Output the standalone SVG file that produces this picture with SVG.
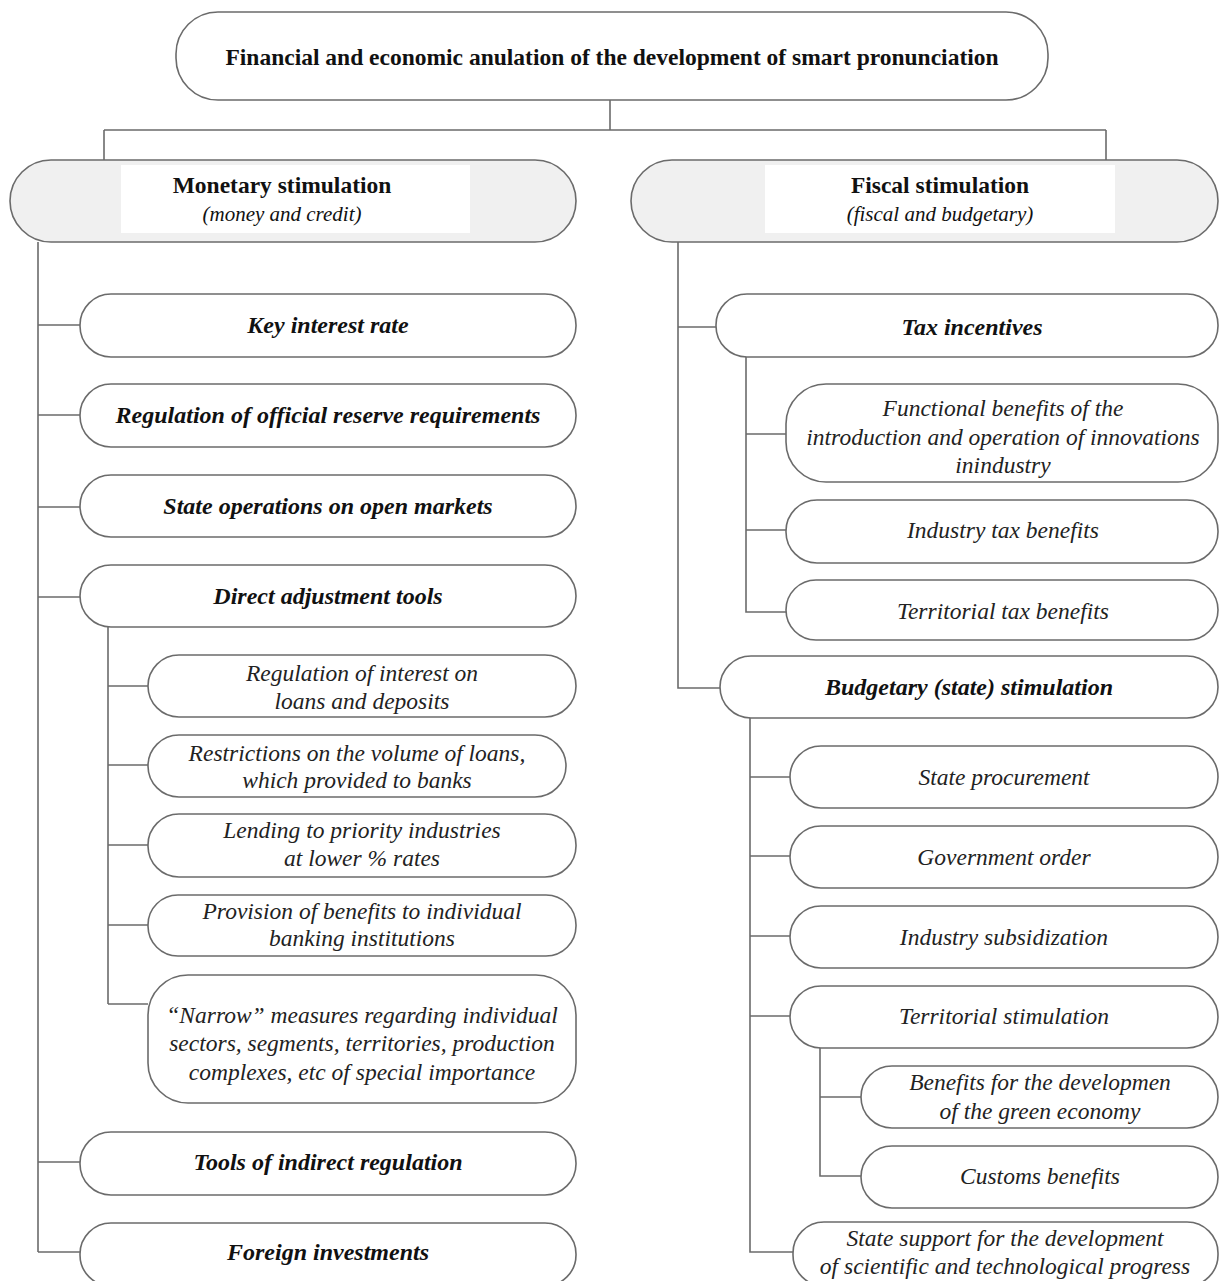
<svg xmlns="http://www.w3.org/2000/svg" width="1222" height="1281" viewBox="0 0 1222 1281">
<style>
.box{fill:#fff;stroke:#6b6b6b;stroke-width:1.6}
.hdr{fill:#f0f0f0;stroke:#6b6b6b;stroke-width:1.6}
.inner{fill:#fff;stroke:none}
.ln{fill:none;stroke:#6b6b6b;stroke-width:1.6}
.t{font-family:"Liberation Serif","Times New Roman",serif;text-anchor:middle;fill:#111}
.title{font-size:23.5px;font-weight:bold}
.bh{font-size:23.5px;font-weight:bold}
.bi{font-size:24px;font-weight:bold;font-style:italic}
.it{font-size:23.5px;font-style:italic;fill:#222}
.sub{font-size:21px;font-style:italic}
</style>
<rect width="1222" height="1281" fill="#fff"/>
<g id="connectors">
<path class="ln" d="M610 100V130M104 130H1106M104 130V160M1106 130V160"/>
<path class="ln" d="M38 242V1252M38 325H80M38 415H80M38 507H80M38 597H80M38 1162H80M38 1252H80"/>
<path class="ln" d="M108 627V1004M108 686H148M108 765H148M108 845H148M108 925H148M108 1004H148"/>
<path class="ln" d="M678 242V688H720M678 327H716"/>
<path class="ln" d="M746 357V612H786M746 434H786M746 530H786"/>
<path class="ln" d="M750 718V1252H793M750 777H790M750 856H790M750 936H790M750 1016H790"/>
<path class="ln" d="M820 1048V1176H861M820 1097H861"/>
</g>
<g id="root">
<rect class="box" x="176" y="12" width="872" height="88" rx="42"/>
<text class="t title" x="612" y="65">Financial and economic anulation of the development of smart pronunciation</text>
</g>
<g id="monetary">
<rect class="hdr" x="10" y="160" width="566" height="82" rx="41"/>
<rect class="inner" x="121" y="165" width="349" height="68"/>
<text class="t bh" x="282" y="193">Monetary stimulation</text>
<text class="t sub" x="282" y="221">(money and credit)</text>
</g>
<g id="fiscal">
<rect class="hdr" x="631" y="160" width="587" height="82" rx="41"/>
<rect class="inner" x="765" y="165" width="350" height="68"/>
<text class="t bh" x="940" y="193">Fiscal stimulation</text>
<text class="t sub" x="940" y="221">(fiscal and budgetary)</text>
</g>
<g id="key-interest-rate">
<rect class="box" x="80" y="294" width="496" height="63" rx="31"/>
<text class="t bi" x="328" y="333">Key interest rate</text>
</g>
<g id="reserve-requirements">
<rect class="box" x="80" y="384" width="496" height="63" rx="31"/>
<text class="t bi" x="328" y="423">Regulation of official reserve requirements</text>
</g>
<g id="open-markets">
<rect class="box" x="80" y="475" width="496" height="62" rx="31"/>
<text class="t bi" x="328" y="514">State operations on open markets</text>
</g>
<g id="direct-tools">
<rect class="box" x="80" y="565" width="496" height="62" rx="31"/>
<text class="t bi" x="328" y="604">Direct adjustment tools</text>
</g>
<g id="interest-loans">
<rect class="box" x="148" y="655" width="428" height="62" rx="31"/>
<text class="t it" x="362" y="681">Regulation of interest on</text>
<text class="t it" x="362" y="709">loans and deposits</text>
</g>
<g id="loan-restrictions">
<rect class="box" x="148" y="735" width="418" height="62" rx="31"/>
<text class="t it" x="357" y="761">Restrictions on the volume of loans,</text>
<text class="t it" x="357" y="788">which provided to banks</text>
</g>
<g id="priority-lending">
<rect class="box" x="148" y="814" width="428" height="63" rx="31"/>
<text class="t it" x="362" y="838">Lending to priority industries</text>
<text class="t it" x="362" y="866">at lower % rates</text>
</g>
<g id="bank-benefits">
<rect class="box" x="148" y="895" width="428" height="61" rx="30"/>
<text class="t it" x="362" y="919">Provision of benefits to individual</text>
<text class="t it" x="362" y="946">banking institutions</text>
</g>
<g id="narrow-measures">
<rect class="box" x="148" y="975" width="428" height="128" rx="40"/>
<text class="t it" x="362" y="1023">“Narrow” measures regarding individual</text>
<text class="t it" x="362" y="1051">sectors, segments, territories, production</text>
<text class="t it" x="362" y="1080">complexes, etc of special importance</text>
</g>
<g id="indirect-tools">
<rect class="box" x="80" y="1132" width="496" height="63" rx="31"/>
<text class="t bi" x="328" y="1170">Tools of indirect regulation</text>
</g>
<g id="foreign-investments">
<rect class="box" x="80" y="1223" width="496" height="63" rx="31"/>
<text class="t bi" x="328" y="1260">Foreign investments</text>
</g>
<g id="tax-incentives">
<rect class="box" x="716" y="294" width="502" height="63" rx="31"/>
<text class="t bi" x="972" y="335">Tax incentives</text>
</g>
<g id="functional-benefits">
<rect class="box" x="786" y="384" width="432" height="98" rx="40"/>
<text class="t it" x="1003" y="416">Functional benefits of the</text>
<text class="t it" x="1003" y="445">introduction and operation of innovations</text>
<text class="t it" x="1003" y="473">inindustry</text>
</g>
<g id="industry-tax-benefits">
<rect class="box" x="786" y="500" width="432" height="63" rx="31"/>
<text class="t it" x="1003" y="538">Industry tax benefits</text>
</g>
<g id="territorial-tax-benefits">
<rect class="box" x="786" y="580" width="432" height="60" rx="30"/>
<text class="t it" x="1003" y="619">Territorial tax benefits</text>
</g>
<g id="budgetary-stimulation">
<rect class="box" x="720" y="656" width="498" height="62" rx="31"/>
<text class="t bi" x="969" y="695">Budgetary (state) stimulation</text>
</g>
<g id="state-procurement">
<rect class="box" x="790" y="746" width="428" height="62" rx="31"/>
<text class="t it" x="1004" y="785">State procurement</text>
</g>
<g id="government-order">
<rect class="box" x="790" y="826" width="428" height="62" rx="31"/>
<text class="t it" x="1004" y="865">Government order</text>
</g>
<g id="industry-subsidization">
<rect class="box" x="790" y="906" width="428" height="62" rx="31"/>
<text class="t it" x="1004" y="945">Industry subsidization</text>
</g>
<g id="territorial-stimulation">
<rect class="box" x="790" y="986" width="428" height="62" rx="31"/>
<text class="t it" x="1004" y="1024">Territorial stimulation</text>
</g>
<g id="green-economy">
<rect class="box" x="861" y="1066" width="357" height="62" rx="31"/>
<text class="t it" x="1040" y="1090">Benefits for the developmen</text>
<text class="t it" x="1040" y="1119">of the green economy</text>
</g>
<g id="customs-benefits">
<rect class="box" x="861" y="1146" width="357" height="62" rx="31"/>
<text class="t it" x="1040" y="1184">Customs benefits</text>
</g>
<g id="scientific-progress">
<rect class="box" x="793" y="1222" width="425" height="64" rx="31"/>
<text class="t it" x="1005" y="1246">State support for the development</text>
<text class="t it" x="1005" y="1274">of scientific and technological progress</text>
</g>
</svg>
